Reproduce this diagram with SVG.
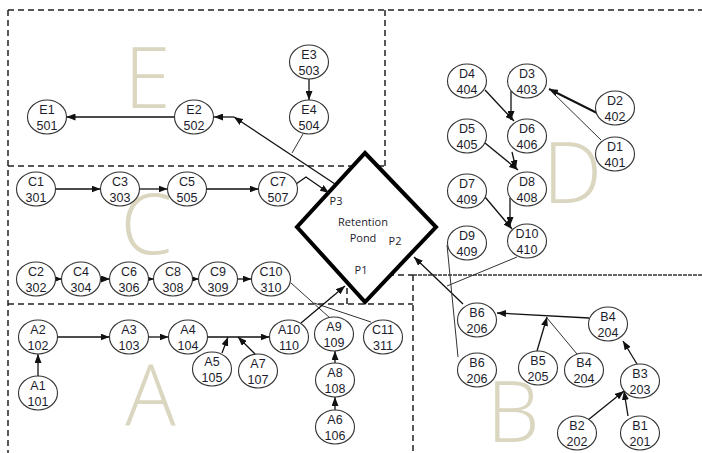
<svg xmlns="http://www.w3.org/2000/svg" width="702" height="453" viewBox="0 0 702 453">
<style>
.bd{fill:none;stroke:#222;stroke-width:1.5;stroke-dasharray:6 4}
.bd2{fill:none;stroke:#333;stroke-width:1.5;stroke-dasharray:4 1}
.big{font-family:"Open Sans","Liberation Sans",sans-serif;font-weight:300;font-size:84px;fill:#DAD6C0;text-anchor:middle}
.n ellipse{fill:#fff;stroke:#333;stroke-width:1.1}
.n text{font-family:"Liberation Sans",Arial,sans-serif;font-size:12.5px;fill:#1c1c2c;text-anchor:middle}
.pl{font-family:"Open Sans","Liberation Sans",sans-serif;font-size:11px;fill:#1c1c2c;text-anchor:middle}
.a{fill:none;stroke:#111;stroke-width:1.3;marker-end:url(#ah)}
.a2{fill:none;stroke:#111;stroke-width:2;marker-end:url(#ah)}
.t{fill:none;stroke:#333;stroke-width:1}
</style>
<defs>
<marker id="ah" markerUnits="userSpaceOnUse" markerWidth="9" markerHeight="7" refX="9" refY="3.5" orient="auto">
<path d="M0,0 L9,3.5 L0,7 z" fill="#111"/>
</marker>
</defs>
<rect width="702" height="453" fill="#fff"/>
<g id="regions">
<path class="bd" d="M8,10 H702 M8,10 V453 M385,10 V166 M8,166 H385 M8,304 H413 M347,304 V275 H413 M413,275 V453"/>
<path class="bd2" d="M413,275 H702"/>
</g>
<g id="region-letters">
<text class="big" x="147.5" y="108">E</text>
<text class="big" x="572.5" y="203">D</text>
<text class="big" x="146.5" y="254">C</text>
<text class="big" x="150.5" y="425">A</text>
<text class="big" x="513" y="442">B</text>
</g>
<g id="pond">
<polygon points="365,153 436,227 365,302 297,227" fill="#fff" stroke="#000" stroke-width="4" stroke-linejoin="miter"/>
<text class="pl" x="363" y="226">Retention</text>
<text class="pl" x="363" y="242">Pond</text>
<text class="pl" x="336" y="205">P3</text>
<text class="pl" x="395" y="245">P2</text>
<text class="pl" x="361" y="274">P1</text>
</g>
<g id="connectors">
<line class="a" x1="309" y1="79" x2="309" y2="100"/>
<line class="a" x1="174.5" y1="117" x2="66.5" y2="117"/>
<line class="a" x1="335" y1="184" x2="234" y2="117"/>
<line class="a" x1="234" y1="117" x2="214" y2="117"/>
<line class="t" x1="303" y1="134" x2="292" y2="153"/>
<line class="a" x1="55.5" y1="189" x2="100.5" y2="189"/>
<line class="a" x1="139.5" y1="189" x2="167.5" y2="189"/>
<line class="a" x1="206.5" y1="189" x2="258.5" y2="189"/>
<polyline class="a" points="296,184 306,177 329,193"/>
<line class="a" x1="55" y1="279" x2="62" y2="279"/>
<line class="a" x1="100" y1="279" x2="110" y2="279"/>
<line class="a" x1="148" y1="279" x2="154" y2="279"/>
<line class="a" x1="192" y1="279" x2="199" y2="279"/>
<line class="a" x1="237.5" y1="279" x2="251.5" y2="279"/>
<line class="t" x1="291" y1="283" x2="330" y2="318"/>
<line class="t" x1="314" y1="303" x2="371" y2="322"/>
<line class="a" x1="38" y1="376" x2="38" y2="354"/>
<line class="a" x1="57.5" y1="337" x2="109.5" y2="337"/>
<line class="a" x1="148.5" y1="337" x2="168.5" y2="337"/>
<line class="a" x1="207.5" y1="337" x2="269.5" y2="337"/>
<line class="a" x1="222" y1="353" x2="228" y2="337"/>
<line class="a" x1="255" y1="354" x2="238" y2="337"/>
<line class="a" x1="301" y1="323" x2="345" y2="286"/>
<line class="a" x1="335" y1="410" x2="335" y2="397"/>
<line class="a" x1="335" y1="363" x2="335" y2="351"/>
<line class="a" x1="628" y1="416" x2="624" y2="391"/>
<line class="a" x1="588" y1="420" x2="624" y2="391"/>
<line class="a" x1="637" y1="364" x2="623" y2="341"/>
<line class="a" x1="589" y1="318" x2="497" y2="313"/>
<line class="a" x1="537" y1="351" x2="547" y2="317"/>
<line class="t" x1="577" y1="354" x2="547" y2="318"/>
<line class="a" x1="463" y1="304" x2="414" y2="257"/>
<line class="t" x1="447" y1="245" x2="458" y2="357"/>
<line class="t" x1="517" y1="257" x2="447" y2="286"/>
<line class="a" x1="485" y1="90" x2="514" y2="121"/>
<line class="a" x1="511" y1="91" x2="511" y2="120"/>
<line class="a2" x1="597" y1="113" x2="549" y2="89"/>
<line class="t" x1="601" y1="140" x2="550" y2="90"/>
<line class="a" x1="485" y1="143" x2="518" y2="170"/>
<line class="a" x1="512" y1="152" x2="516" y2="169"/>
<line class="a" x1="485" y1="197" x2="512" y2="229"/>
<line class="a" x1="510" y1="198" x2="510" y2="226"/>
</g>
<g id="nodes">
<g id="E1" class="n"><ellipse cx="47" cy="117" rx="19.5" ry="17"/><text x="47" y="113.5">E1</text><text x="47" y="129.5">501</text></g>
<g id="E2" class="n"><ellipse cx="194" cy="117" rx="19.5" ry="17"/><text x="194" y="113.5">E2</text><text x="194" y="129.5">502</text></g>
<g id="E3" class="n"><ellipse cx="309" cy="62" rx="19.5" ry="17"/><text x="309" y="58.5">E3</text><text x="309" y="74.5">503</text></g>
<g id="E4" class="n"><ellipse cx="309" cy="117" rx="19.5" ry="17"/><text x="309" y="113.5">E4</text><text x="309" y="129.5">504</text></g>
<g id="D4" class="n"><ellipse cx="467" cy="81" rx="19.5" ry="17"/><text x="467" y="77.5">D4</text><text x="467" y="93.5">404</text></g>
<g id="D3" class="n"><ellipse cx="527" cy="81" rx="19.5" ry="17"/><text x="527" y="77.5">D3</text><text x="527" y="93.5">403</text></g>
<g id="D2" class="n"><ellipse cx="615" cy="108" rx="19.5" ry="17"/><text x="615" y="104.5">D2</text><text x="615" y="120.5">402</text></g>
<g id="D1" class="n"><ellipse cx="615" cy="154" rx="19.5" ry="17"/><text x="615" y="150.5">D1</text><text x="615" y="166.5">401</text></g>
<g id="D5" class="n"><ellipse cx="467" cy="136" rx="19.5" ry="17"/><text x="467" y="132.5">D5</text><text x="467" y="148.5">405</text></g>
<g id="D6" class="n"><ellipse cx="527" cy="136" rx="19.5" ry="17"/><text x="527" y="132.5">D6</text><text x="527" y="148.5">406</text></g>
<g id="D7" class="n"><ellipse cx="467" cy="191" rx="19.5" ry="17"/><text x="467" y="187.5">D7</text><text x="467" y="203.5">409</text></g>
<g id="D8" class="n"><ellipse cx="527" cy="189" rx="19.5" ry="17"/><text x="527" y="185.5">D8</text><text x="527" y="201.5">408</text></g>
<g id="D9" class="n"><ellipse cx="467" cy="243" rx="19.5" ry="17"/><text x="467" y="239.5">D9</text><text x="467" y="255.5">409</text></g>
<g id="D10" class="n"><ellipse cx="527" cy="241" rx="19.5" ry="17"/><text x="527" y="237.5">D10</text><text x="527" y="253.5">410</text></g>
<g id="C1" class="n"><ellipse cx="36" cy="189" rx="19.5" ry="17"/><text x="36" y="185.5">C1</text><text x="36" y="201.5">301</text></g>
<g id="C3" class="n"><ellipse cx="120" cy="189" rx="19.5" ry="17"/><text x="120" y="185.5">C3</text><text x="120" y="201.5">303</text></g>
<g id="C5" class="n"><ellipse cx="187" cy="189" rx="19.5" ry="17"/><text x="187" y="185.5">C5</text><text x="187" y="201.5">505</text></g>
<g id="C7" class="n"><ellipse cx="278" cy="189" rx="19.5" ry="17"/><text x="278" y="185.5">C7</text><text x="278" y="201.5">507</text></g>
<g id="C2" class="n"><ellipse cx="36" cy="279" rx="19.5" ry="17"/><text x="36" y="275.5">C2</text><text x="36" y="291.5">302</text></g>
<g id="C4" class="n"><ellipse cx="81" cy="279" rx="19.5" ry="17"/><text x="81" y="275.5">C4</text><text x="81" y="291.5">304</text></g>
<g id="C6" class="n"><ellipse cx="129" cy="279" rx="19.5" ry="17"/><text x="129" y="275.5">C6</text><text x="129" y="291.5">306</text></g>
<g id="C8" class="n"><ellipse cx="173" cy="279" rx="19.5" ry="17"/><text x="173" y="275.5">C8</text><text x="173" y="291.5">308</text></g>
<g id="C9" class="n"><ellipse cx="218" cy="279" rx="19.5" ry="17"/><text x="218" y="275.5">C9</text><text x="218" y="291.5">309</text></g>
<g id="C10" class="n"><ellipse cx="271" cy="279" rx="19.5" ry="17"/><text x="271" y="275.5">C10</text><text x="271" y="291.5">310</text></g>
<g id="A2" class="n"><ellipse cx="38" cy="337" rx="19.5" ry="17"/><text x="38" y="333.5">A2</text><text x="38" y="349.5">102</text></g>
<g id="A1" class="n"><ellipse cx="38" cy="393" rx="19.5" ry="17"/><text x="38" y="389.5">A1</text><text x="38" y="405.5">101</text></g>
<g id="A3" class="n"><ellipse cx="129" cy="337" rx="19.5" ry="17"/><text x="129" y="333.5">A3</text><text x="129" y="349.5">103</text></g>
<g id="A4" class="n"><ellipse cx="188" cy="337" rx="19.5" ry="17"/><text x="188" y="333.5">A4</text><text x="188" y="349.5">104</text></g>
<g id="A5" class="n"><ellipse cx="212" cy="369" rx="19.5" ry="17"/><text x="212" y="365.5">A5</text><text x="212" y="381.5">105</text></g>
<g id="A7" class="n"><ellipse cx="258" cy="371" rx="19.5" ry="17"/><text x="258" y="367.5">A7</text><text x="258" y="383.5">107</text></g>
<g id="A10" class="n"><ellipse cx="289" cy="337" rx="19.5" ry="17"/><text x="289" y="333.5">A10</text><text x="289" y="349.5">110</text></g>
<g id="A9" class="n"><ellipse cx="334" cy="334" rx="19.5" ry="17"/><text x="334" y="330.5">A9</text><text x="334" y="346.5">109</text></g>
<g id="C11" class="n"><ellipse cx="383" cy="337" rx="19.5" ry="17"/><text x="383" y="333.5">C11</text><text x="383" y="349.5">311</text></g>
<g id="A8" class="n"><ellipse cx="335" cy="380" rx="19.5" ry="17"/><text x="335" y="376.5">A8</text><text x="335" y="392.5">108</text></g>
<g id="A6" class="n"><ellipse cx="335" cy="427" rx="19.5" ry="17"/><text x="335" y="423.5">A6</text><text x="335" y="439.5">106</text></g>
<g id="B6a" class="n"><ellipse cx="477" cy="320" rx="19.5" ry="17"/><text x="477" y="316.5">B6</text><text x="477" y="332.5">206</text></g>
<g id="B6b" class="n"><ellipse cx="477" cy="370" rx="19.5" ry="17"/><text x="477" y="366.5">B6</text><text x="477" y="382.5">206</text></g>
<g id="B5" class="n"><ellipse cx="538" cy="368" rx="19.5" ry="17"/><text x="538" y="364.5">B5</text><text x="538" y="380.5">205</text></g>
<g id="B4b" class="n"><ellipse cx="584" cy="370" rx="19.5" ry="17"/><text x="584" y="366.5">B4</text><text x="584" y="382.5">204</text></g>
<g id="B4a" class="n"><ellipse cx="608" cy="324" rx="19.5" ry="17"/><text x="608" y="320.5">B4</text><text x="608" y="336.5">204</text></g>
<g id="B3" class="n"><ellipse cx="640" cy="381" rx="19.5" ry="17"/><text x="640" y="377.5">B3</text><text x="640" y="393.5">203</text></g>
<g id="B2" class="n"><ellipse cx="577" cy="433" rx="19.5" ry="17"/><text x="577" y="429.5">B2</text><text x="577" y="445.5">202</text></g>
<g id="B1" class="n"><ellipse cx="640" cy="433" rx="19.5" ry="17"/><text x="640" y="429.5">B1</text><text x="640" y="445.5">201</text></g>
</g>
</svg>
